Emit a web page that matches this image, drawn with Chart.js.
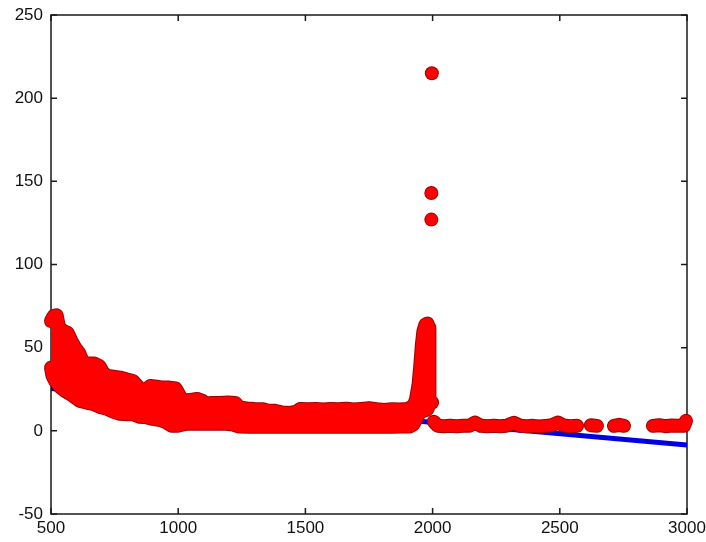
<!DOCTYPE html>
<html>
<head>
<meta charset="utf-8">
<script src="https://cdn.jsdelivr.net/npm/chart.js@4.4.1/dist/chart.umd.min.js"></script>
<style>
  body { margin: 0; background: #fff; }
</style>
</head>
<body>
<canvas id="chart" width="706" height="542"></canvas>
<script>
// axis ticks
const xTicks = [500, 1000, 1500, 2000, 2500, 3000];
const yTicks = [-50, 0, 50, 100, 150, 200, 250];

// dense red cloud: upper edge (marker centres), read left to right
const cloudTopX = [500, 510, 522, 532, 548, 565, 580, 595, 610, 625, 645, 670, 690, 705, 720, 745, 771, 795, 822, 840,
  858, 875, 890, 915, 940, 965, 990, 1003, 1015, 1045, 1074, 1095, 1105, 1130, 1160, 1195, 1225, 1240, 1270, 1300,
  1333, 1355, 1380, 1410, 1440, 1465, 1480, 1510, 1540, 1570, 1600, 1630, 1660, 1690, 1720, 1750, 1780, 1810, 1840,
  1870, 1900, 1912, 1925, 1935, 1945, 1952, 1958, 1964, 1972, 1980, 1986];
const cloudTopY = [66, 69, 69.5, 62, 60, 59, 54, 50, 47, 41.5, 40.5, 40.5, 39, 35, 33, 32.5, 32, 31, 30, 27,
  23, 25, 27, 26.5, 26, 26, 25.5, 22, 18, 18.5, 19.2, 18, 16.2, 16.8, 16.8, 17, 16.8, 14, 13.5, 13.2,
  13, 12, 12, 11, 10.8, 11.5, 13.2, 13, 13.2, 12.8, 13.2, 13, 13.3, 12.8, 13.2, 13.6, 13, 12.6, 13,
  12.8, 13.2, 14, 15, 19, 28, 40, 52, 60, 64, 64.5, 62];

// right side of the spike near 2000, top to bottom
const spikeEdgeX = [1989, 1988, 1987, 1986, 1984, 1980];
const spikeEdgeY = [52, 40, 30, 20, 15, 13];

// lower edge of the cloud, read left to right
const cloudBottomX = [500, 506, 516, 535, 555, 575, 595, 614, 640, 665, 690, 720, 745, 771, 800, 822, 850, 875, 900, 930,
  955, 975, 995, 1010, 1030, 1070, 1110, 1150, 1190, 1215, 1240, 1280, 1320, 1360, 1400, 1440, 1480, 1520, 1560,
  1600, 1640, 1680, 1720, 1760, 1800, 1840, 1880, 1910, 1925, 1938, 1950, 1962, 1975];
const cloudBottomY = [38, 33, 30, 26.4, 24, 22.2, 20, 18, 17, 16.2, 14.5, 13.2, 11.5, 10.2, 10, 10, 8.4, 8.2, 7.2, 6.5,
  5, 3, 3, 3.5, 4.2, 4.2, 4.2, 4.2, 4.2, 3.8, 2.6, 2.4, 2.6, 2.4, 2.6, 2.4, 2.6, 2.4, 2.6,
  2.4, 2.6, 2.4, 2.6, 2.4, 2.6, 2.4, 2.6, 2.6, 4, 8, 11, 12, 12.5];

// flat tail after the spike (pieces separated by the gaps near 2600, 2700 and 2800)
const tailX = [2005, 2020, 2045, 2070, 2095, 2120, 2145, 2167, 2190, 2215, 2240, 2265, 2290, 2320, 2345, 2370, 2395,
  2420, 2445, 2470, 2492, 2515, 2540, 2568, 2622, 2646, 2713, 2733, 2752, 2866, 2890, 2915, 2940, 2965, 2988, 2996];
const tailY = [5.5, 3, 2.8, 3, 2.8, 3, 3, 5, 3, 2.8, 3, 2.8, 3, 4.8, 3, 2.8, 3,
  2.6, 3, 3.4, 5, 3.2, 2.8, 3, 3.4, 3, 3, 3.6, 3, 3, 3.4, 2.8, 3.2, 3, 3, 6];

// isolated points at the spike
const outlierX = [1997, 1995, 1995, 1998];
const outlierY = [215, 143, 127, 17];

// blue fitted line
const fitX = [500, 3000];
const fitY = [25.5, -8.5];

const RED = '#ff0000';
const RIM = '#a00000';
const BLUE = '#0000e0';

const toPoints = (xs, ys) => xs.map((x, i) => ({x: x, y: ys[i]}));

// closed outline of the cloud: top edge, spike edge, then bottom edge back to the start
const cloudShape = toPoints(cloudTopX, cloudTopY)
  .concat(toPoints(spikeEdgeX, spikeEdgeY))
  .concat(toPoints(cloudBottomX, cloudBottomY).reverse());
const tail = toPoints(tailX, tailY);
const outliers = toPoints(outlierX, outlierY);
const fitLine = toPoints(fitX, fitY);

// MATLAB style box with inward ticks on all four sides
const frameBox = {
  id: 'frameBox',
  beforeDatasetsDraw(chart) {
    const ctx = chart.ctx;
    const a = chart.chartArea;
    const xs = chart.scales.x;
    const ys = chart.scales.y;
    const len = 6;

    ctx.save();
    ctx.strokeStyle = '#1a1a1a';
    ctx.lineWidth = 1.5;
    ctx.strokeRect(a.left, a.top, a.right - a.left, a.bottom - a.top);
    ctx.beginPath();
    xTicks.forEach(v => {
      const px = xs.getPixelForValue(v);
      ctx.moveTo(px, a.bottom); ctx.lineTo(px, a.bottom - len);
      ctx.moveTo(px, a.top); ctx.lineTo(px, a.top + len);
    });
    yTicks.forEach(v => {
      const py = ys.getPixelForValue(v);
      ctx.moveTo(a.left, py); ctx.lineTo(a.left + len, py);
      ctx.moveTo(a.right, py); ctx.lineTo(a.right - len, py);
    });
    ctx.stroke();
    ctx.restore();
  }
};

const tickFont = { family: '"Liberation Sans", Arial, sans-serif', size: 17 };

// thick round stroke = a run of touching markers
const band = (color, width) => ({
  showLine: true, borderColor: color, borderWidth: width,
  borderJoinStyle: 'round', borderCapStyle: 'round', pointRadius: 0, clip: false
});

new Chart(document.getElementById('chart'), {
  type: 'scatter',
  data: {
    datasets: [
      // red layer on top
      { data: outliers, showLine: false, pointRadius: 6, pointBorderWidth: 0,
        pointBackgroundColor: RED, order: 0, clip: false },
      Object.assign({ data: tail, spanGaps: 40, fill: false, order: 0 }, band(RED, 12)),
      Object.assign({ data: cloudShape, fill: 'shape', backgroundColor: RED, order: 1 }, band(RED, 12)),
      // dark rims below it
      { data: outliers, showLine: false, pointRadius: 7, pointBorderWidth: 0,
        pointBackgroundColor: RIM, order: 2, clip: false },
      Object.assign({ data: tail, spanGaps: 40, fill: false, order: 2 }, band(RIM, 14)),
      Object.assign({ data: cloudShape, fill: false, order: 3 }, band(RIM, 14)),
      // blue line underneath
      { data: fitLine, showLine: true, borderColor: BLUE, borderWidth: 5,
        pointRadius: 0, order: 4 }
    ]
  },
  options: {
    responsive: false,
    animation: false,
    devicePixelRatio: 1,
    layout: { padding: { top: 15, right: 19, left: 0, bottom: 0 } },
    plugins: {
      legend: { display: false },
      tooltip: { enabled: false }
    },
    scales: {
      x: {
        type: 'linear', min: 500, max: 3000,
        afterBuildTicks: s => { s.ticks = xTicks.map(v => ({value: v})); },
        afterFit: s => { s.height = 28; s.paddingLeft = 0; s.paddingRight = 0; },
        grid: { display: false, drawTicks: false },
        border: { display: false },
        ticks: { color: '#111', font: tickFont, padding: 4, maxRotation: 0, callback: v => String(v) }
      },
      y: {
        type: 'linear', min: -50, max: 250,
        afterBuildTicks: s => { s.ticks = yTicks.map(v => ({value: v})); },
        afterFit: s => { s.width = 51; s.paddingTop = 0; s.paddingBottom = 0; },
        grid: { display: false, drawTicks: false },
        border: { display: false },
        ticks: { color: '#111', font: tickFont, padding: 8, callback: v => String(v) }
      }
    }
  },
  plugins: [frameBox]
});
</script>
</body>
</html>
